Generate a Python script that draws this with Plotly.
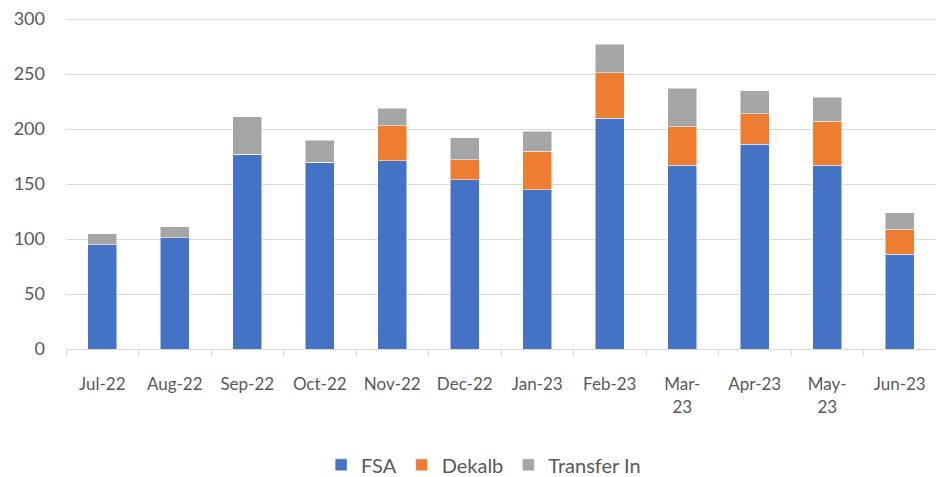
import plotly.graph_objects as go

months = ["Jul-22", "Aug-22", "Sep-22", "Oct-22", "Nov-22", "Dec-22",
          "Jan-23", "Feb-23", "Mar-<br>23", "Apr-23", "May-<br>23", "Jun-23"]
fsa = [95, 101, 177, 170, 171, 154, 145, 210, 167, 186, 167, 86]
dekalb = [0, 0, 0, 0, 32, 18, 35, 41, 35, 28, 40, 23]
transfer_in = [10, 10, 34, 20, 16, 20, 18, 26, 35, 21, 22, 15]
y_ticks = [0, 50, 100, 150, 200, 250, 300]

colors = {"FSA": "#4472C4", "Dekalb": "#ED7D31", "Transfer In": "#A5A5A5"}
font_family = "Lato, 'Open Sans', sans-serif"

fig = go.Figure()
for name, vals in [("FSA", fsa), ("Dekalb", dekalb), ("Transfer In", transfer_in)]:
    fig.add_trace(go.Bar(
        x=months, y=vals, name=name,
        marker=dict(color=colors[name], line=dict(color="white", width=0.5)),
    ))

fig.update_layout(
    barmode="stack",
    bargap=0.6,
    width=936, height=477,
    margin=dict(l=66, r=0, t=18, b=128, autoexpand=False),
    plot_bgcolor="white", paper_bgcolor="white",
    font=dict(family=font_family, size=17, color="#595959"),
    legend=dict(orientation="h", x=0.48, xanchor="center", y=-0.35, yanchor="middle",
                font=dict(size=20, color="#595959"), traceorder="normal",
                itemwidth=30),
    showlegend=True,
)
fig.update_xaxes(
    automargin=False,
    showline=True, linecolor="#d9d9d9", linewidth=1,
    ticks="outside", tickson="boundaries", ticklen=6, tickcolor="#d9d9d9",
    tickfont=dict(size=17, color="#595959"),
    ticklabelstandoff=20,
    showgrid=False,
)
fig.update_yaxes(
    automargin=False,
    range=[0, 301], tickmode="array", tickvals=y_ticks,
    showgrid=True, gridcolor="#d9d9d9", gridwidth=1,
    zeroline=False, showline=False,
    tickfont=dict(size=18, color="#595959"),
    ticks="", ticklabelstandoff=20,
)

fig.write_html(
    "out.html",
    config={"displayModeBar": False},
    post_script="document.body.style.margin='0';document.body.style.overflow='hidden';",
)
